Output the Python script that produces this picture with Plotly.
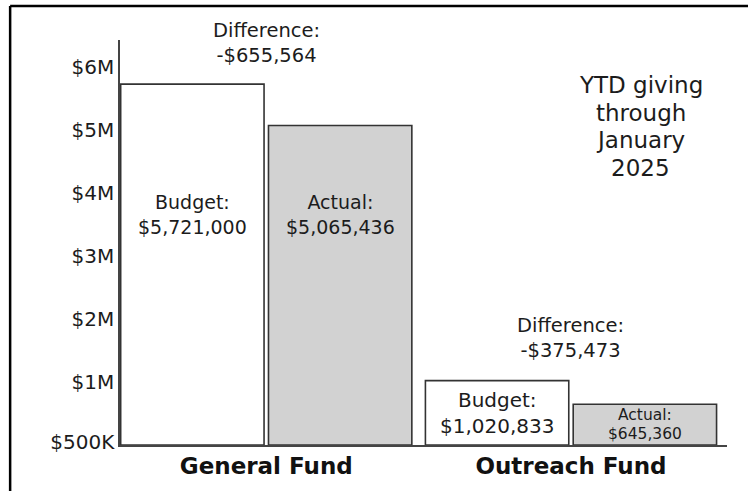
import plotly.graph_objects as go

categories = ["General Fund", "Outreach Fund"]
budget = [5721000, 1020833]
actual = [5065436, 645360]
difference = [a - b for a, b in zip(actual, budget)]
tick_vals = [0.05e6, 1e6, 2e6, 3e6, 4e6, 5e6, 6e6]
tick_text = ["$500K", "$1M", "$2M", "$3M", "$4M", "$5M", "$6M"]
note_lines = ["YTD giving", "through", "January", "2025"]

FONT = "DejaVu Sans"
TXT = "#1c1c1c"

def money(v):
    s = f"${abs(v):,.0f}"
    return ("-" if v < 0 else "") + s

fig = go.Figure()
fig.add_trace(go.Bar(x=categories, y=budget, name="Budget", hoverinfo="skip",
                     marker=dict(color="white", line=dict(color="#333333", width=1.6))))
fig.add_trace(go.Bar(x=categories, y=actual, name="Actual", hoverinfo="skip",
                     marker=dict(color="#d2d2d2", line=dict(color="#333333", width=1.6))))

off = 0.2425
ann = []
ann.append(dict(x=0 - off, y=3.66e6, text=f"Budget:<br>{money(budget[0])}", font=dict(size=19)))
ann.append(dict(x=0 + off, y=3.66e6, text=f"Actual:<br>{money(actual[0])}", font=dict(size=19)))
ann.append(dict(x=0, y=6.37e6, text=f"Difference:<br>{money(difference[0])}", font=dict(size=19.5)))
ann.append(dict(x=1 - off, y=budget[1] / 2, text=f"Budget:<br>{money(budget[1])}", font=dict(size=20)))
ann.append(dict(x=1 + off, y=actual[1] / 2 + 0.155e6, text="Actual:", font=dict(size=15.5)))
ann.append(dict(x=1 + off, y=actual[1] / 2 - 0.155e6, text=money(actual[1]), font=dict(size=15.5)))
ann.append(dict(x=1, y=1.70e6, text=f"Difference:<br>{money(difference[1])}", font=dict(size=19.5)))
for a in ann:
    a.update(xref="x", yref="y", showarrow=False, xanchor="center", yanchor="middle")
    a["font"].update(family=FONT, color=TXT)
for i, line in enumerate(note_lines):
    ann.append(dict(xref="paper", yref="paper", x=0.858, y=(445 - (85 + 27.7 * i)) / 405, text=line,
                    showarrow=False, xanchor="center", yanchor="middle",
                    font=dict(family=FONT, size=23, color=TXT)))

fig.update_layout(
    width=748, height=491,
    margin=dict(l=120, r=21, t=40, b=46),
    paper_bgcolor="white", plot_bgcolor="white",
    barmode="group", bargap=0.03, bargroupgap=0.03,
    showlegend=False, hovermode=False,
    annotations=ann,
    font=dict(family=FONT, color=TXT),
    shapes=[
        dict(type="line", xref="paper", yref="paper", x0=-0.181, x1=1.05, y0=1.084, y1=1.084,
             line=dict(color="black", width=2.5)),
        dict(type="line", xref="paper", yref="paper", x0=-0.181, x1=-0.181, y0=1.084, y1=-0.2,
             line=dict(color="black", width=2.5)),
    ],
)
fig.update_xaxes(type="category", range=[-0.48, 1.512], showline=True, linecolor="#444444", linewidth=1.5,
                 showgrid=False, ticks="", automargin=False,
                 tickfont=dict(family=FONT, size=23, weight="bold", color="#111111"))
fig.update_yaxes(range=[0, 6.42e6], showline=True, linecolor="#444444", linewidth=1.5,
                 showgrid=False, zeroline=False, ticks="", tickvals=tick_vals, ticktext=tick_text,
                 automargin=False, tickfont=dict(family=FONT, size=20, color=TXT))

fig.write_html("out.html", config={"displayModeBar": False},
               post_script="document.body.style.margin='0';")
